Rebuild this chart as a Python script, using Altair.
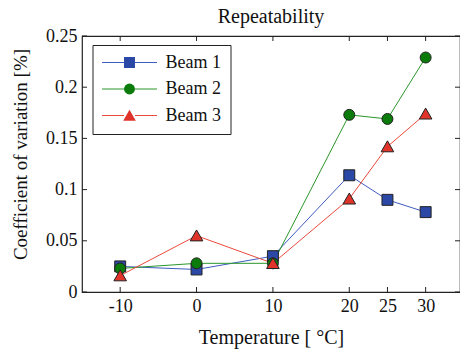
import altair as alt
import pandas as pd

# ---- data ----
temperatures = [-10, 0, 10, 20, 25, 30]
beam_1 = [0.025, 0.022, 0.035, 0.114, 0.090, 0.078]
beam_2 = [0.023, 0.028, 0.028, 0.173, 0.169, 0.229]
beam_3 = [0.016, 0.055, 0.028, 0.091, 0.142, 0.174]
series_names = ["Beam 1", "Beam 2", "Beam 3"]
x_tick_values = [-10, 0, 10, 20, 25, 30]
y_tick_values = [0, 0.05, 0.1, 0.15, 0.2, 0.25]

rows = []
for name, vals in zip(series_names, [beam_1, beam_2, beam_3]):
    for t, v in zip(temperatures, vals):
        rows.append({"Temperature": t, "CV": v, "Beam": name})
df = pd.DataFrame(rows)
xt = pd.DataFrame({"Temperature": x_tick_values})
yt = pd.DataFrame({"CV": y_tick_values})

# ---- styling ----
W, H = 378, 256
FONT = "Liberation Serif"
TXT = "#111111"
line_colors = ["#3f5cc0", "#2a962a", "#ec4a3c"]
fill_colors = ["#2b48a6", "#0b7b0b", "#e0342a"]
shapes = ["square", "circle", "M0,-1.05L1.15,0.95L-1.15,0.95Z"]

xscale = alt.Scale(domain=[-15, 34.5], nice=False, zero=False)
yscale = alt.Scale(domain=[0, 0.25], nice=False, zero=False)

x_axis = alt.Axis(
    values=x_tick_values, title="Temperature [ °C]", domain=False, ticks=False, grid=False,
    labelExpr="'' + datum.value", labelFont=FONT, labelFontSize=18, labelColor=TXT,
    labelPadding=5, titleFont=FONT, titleFontSize=20, titleFontWeight="normal",
    titleColor=TXT, titleBaseline="alphabetic", titleAlign="center", titleX=W / 2, titleY=51,
)
y_axis = alt.Axis(
    values=y_tick_values, title="Coefficient of variation [%]", domain=False, ticks=False,
    grid=False, format="~g", labelFont=FONT, labelFontSize=18, labelColor=TXT,
    labelPadding=5, titleFont=FONT, titleFontSize=19, titleFontWeight="normal",
    titleColor=TXT, titleAngle=270, titleBaseline="alphabetic", titleAlign="center",
    titleX=-55.5, titleY=118,
)

common_legend = dict(
    title=None, orient="none", legendY=9, padding=9, clipHeight=17, rowPadding=7.5,
    labelFont=FONT, labelFontSize=18, labelColor=TXT, labelOffset=8,
)
line_legend = alt.Legend(
    legendX=10.5, symbolType="M-1,0H-0.2M0.2,0H1", symbolSize=3025, symbolStrokeWidth=1,
    strokeColor="#222222", **common_legend,
)
point_legend = alt.Legend(
    legendX=29.5, symbolSize=120, symbolStrokeWidth=1, symbolStrokeColor="#222222",
    labelExpr="''", **common_legend,
)

X = alt.X("Temperature:Q", scale=xscale, axis=x_axis)
Y = alt.Y("CV:Q", scale=yscale, axis=y_axis)

lines = alt.Chart(df).mark_line(strokeWidth=1).encode(
    x=X, y=Y,
    stroke=alt.Stroke("Beam:N", scale=alt.Scale(domain=series_names, range=line_colors),
                      legend=line_legend),
)
points = alt.Chart(df).mark_point(filled=True, size=120, stroke="#222222", strokeWidth=1,
                                  opacity=1).encode(
    x=X, y=Y,
    fill=alt.Fill("Beam:N", scale=alt.Scale(range=fill_colors), legend=point_legend),
    shape=alt.Shape("Beam:N", scale=alt.Scale(range=shapes), legend=point_legend),
)

tick_style = dict(color="#222222", strokeWidth=1)
x_ticks_bottom = alt.Chart(xt).mark_rule(**tick_style).encode(
    x=X, y=alt.value(H), y2=alt.value(H - 5))
x_ticks_top = alt.Chart(xt).mark_rule(**tick_style).encode(
    x=X, y=alt.value(0), y2=alt.value(5))
y_ticks_left = alt.Chart(yt).mark_rule(**tick_style).encode(
    y=Y, x=alt.value(0), x2=alt.value(5))
y_ticks_right = alt.Chart(yt).mark_rule(**tick_style).encode(
    y=Y, x=alt.value(W), x2=alt.value(W - 5))

chart = alt.layer(
    lines, points, x_ticks_bottom, x_ticks_top, y_ticks_left, y_ticks_right
).properties(
    width=W, height=H,
    title=alt.Title("Repeatability", font=FONT, fontSize=20, fontWeight="normal",
                    color=TXT, baseline="alphabetic", offset=11, dy=27),
    autosize=alt.AutoSizeParams(type="none"),
    padding={"left": 82, "top": 36, "right": 0, "bottom": 59},
).configure_view(stroke="#222222", strokeWidth=1.2)

chart.save("out.html", embed_options={"renderer": "svg", "actions": False})
